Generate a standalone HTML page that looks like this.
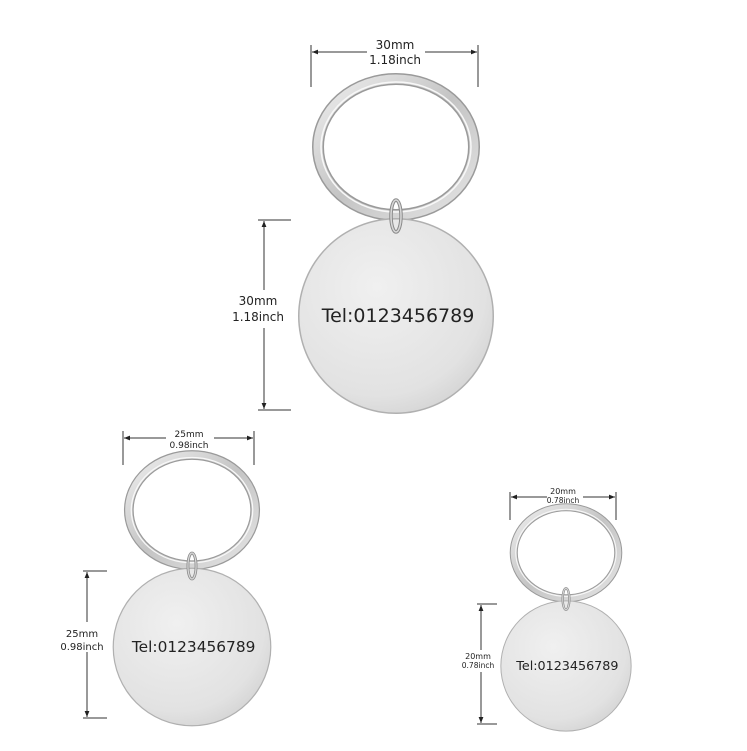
<!DOCTYPE html>
<html><head><meta charset="utf-8"><style>
html,body{margin:0;padding:0;background:#fff;}
svg{display:block;}
text{font-family:"DejaVu Sans","Liberation Sans",sans-serif;}
</style></head><body>
<svg width="747" height="751" viewBox="0 0 747 751" xmlns="http://www.w3.org/2000/svg">
<defs>
  <radialGradient id="disc" cx="40%" cy="35%" r="75%">
    <stop offset="0" stop-color="#f0f0f0"/>
    <stop offset="0.75" stop-color="#e2e2e2"/>
    <stop offset="1" stop-color="#d0d0d0"/>
  </radialGradient>
  <linearGradient id="ringg" x1="0" y1="0" x2="1" y2="1">
    <stop offset="0" stop-color="#eeeeee"/>
    <stop offset="0.5" stop-color="#c4c4c4"/>
    <stop offset="1" stop-color="#e4e4e4"/>
  </linearGradient>
  <g id="tag">
    <ellipse cx="0" cy="-169" rx="78" ry="68" fill="none" stroke="#9a9a9a" stroke-width="12"/>
    <ellipse cx="0" cy="-169" rx="78" ry="68" fill="none" stroke="url(#ringg)" stroke-width="9"/>
    <ellipse cx="0" cy="-169" rx="75" ry="65" fill="none" stroke="#f8f8f8" stroke-width="1.5"/>
    <circle cx="0" cy="0" r="98" fill="#b0b0b0"/>
    <circle cx="0" cy="0" r="96.5" fill="url(#disc)"/>
    <ellipse cx="0" cy="-100" rx="5" ry="16" fill="none" stroke="#8a8a8a" stroke-width="3.5"/>
    <ellipse cx="0" cy="-100" rx="5" ry="16" fill="none" stroke="#d8d8d8" stroke-width="1.5"/>
    <text x="2" y="6" font-size="19" text-anchor="middle" fill="#222">Tel:0123456789</text>
  </g>
  <marker id="ar" viewBox="0 0 10 10" refX="10" refY="5" markerWidth="6" markerHeight="6" orient="auto-start-reverse">
    <path d="M0,1 L10,5 L0,9 z" fill="#222"/>
  </marker>
</defs>

<use href="#tag" transform="translate(396,316)"/>
<g stroke="#333" stroke-width="1" fill="none">
  <line x1="311" y1="45" x2="311" y2="87"/><line x1="478" y1="45" x2="478" y2="87"/>
  <line x1="312" y1="52" x2="367" y2="52" marker-start="url(#ar)"/>
  <line x1="425" y1="52" x2="477" y2="52" marker-end="url(#ar)"/>
  <line x1="258" y1="220" x2="291" y2="220"/><line x1="258" y1="410" x2="291" y2="410"/>
  <line x1="264" y1="221" x2="264" y2="290" marker-start="url(#ar)"/>
  <line x1="264" y1="328" x2="264" y2="409" marker-end="url(#ar)"/>
</g>
<text x="395" y="49" font-size="12" text-anchor="middle" fill="#222">30mm</text>
<text x="395" y="64" font-size="12" text-anchor="middle" fill="#222">1.18inch</text>
<text x="258" y="305" font-size="12" text-anchor="middle" fill="#222">30mm</text>
<text x="258" y="321" font-size="12" text-anchor="middle" fill="#222">1.18inch</text>

<use href="#tag" transform="translate(192,647) scale(0.81)"/>
<g stroke="#333" stroke-width="1" fill="none">
  <line x1="123" y1="431" x2="123" y2="465"/><line x1="254" y1="431" x2="254" y2="465"/>
  <line x1="124" y1="438" x2="166" y2="438" marker-start="url(#ar)"/>
  <line x1="214" y1="438" x2="253" y2="438" marker-end="url(#ar)"/>
  <line x1="83" y1="571" x2="107" y2="571"/><line x1="83" y1="718" x2="107" y2="718"/>
  <line x1="87" y1="572" x2="87" y2="622" marker-start="url(#ar)"/>
  <line x1="87" y1="652" x2="87" y2="717" marker-end="url(#ar)"/>
</g>
<text x="189" y="437" font-size="9" text-anchor="middle" fill="#222">25mm</text>
<text x="189" y="448" font-size="9" text-anchor="middle" fill="#222">0.98inch</text>
<text x="82" y="637" font-size="10" text-anchor="middle" fill="#222">25mm</text>
<text x="82" y="650" font-size="10" text-anchor="middle" fill="#222">0.98inch</text>

<use href="#tag" transform="translate(566,666) scale(0.67)"/>
<g stroke="#333" stroke-width="1" fill="none">
  <line x1="510" y1="492" x2="510" y2="520"/><line x1="616" y1="492" x2="616" y2="520"/>
  <line x1="511" y1="497" x2="547" y2="497" marker-start="url(#ar)"/>
  <line x1="583" y1="497" x2="615" y2="497" marker-end="url(#ar)"/>
  <line x1="477" y1="604" x2="497" y2="604"/><line x1="477" y1="724" x2="497" y2="724"/>
  <line x1="481" y1="605" x2="481" y2="650" marker-start="url(#ar)"/>
  <line x1="481" y1="672" x2="481" y2="723" marker-end="url(#ar)"/>
</g>
<text x="563" y="494" font-size="8" text-anchor="middle" fill="#222">20mm</text>
<text x="563" y="503" font-size="7.5" text-anchor="middle" fill="#222">0.78inch</text>
<text x="478" y="659" font-size="8" text-anchor="middle" fill="#222">20mm</text>
<text x="478" y="668" font-size="7.5" text-anchor="middle" fill="#222">0.78inch</text>
</svg>
</body></html>
